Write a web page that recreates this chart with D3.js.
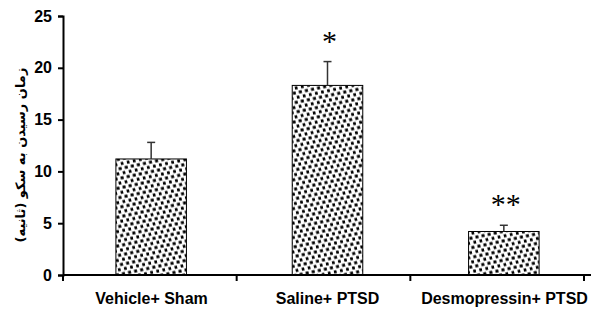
<!DOCTYPE html>
<html><head><meta charset="utf-8">
<script src="https://cdn.jsdelivr.net/npm/d3@7"></script>
<style>body{margin:0;background:#fff}svg{display:block}</style>
</head><body>
<script>
const categories = ["Vehicle+ Sham", "Saline+ PTSD", "Desmopressin+ PTSD"];
const means = [11.2, 18.3, 4.2];
const errors = [1.6, 2.3, 0.6];
const marks = ["", "*", "**"];
const yTicks = [0, 5, 10, 15, 20, 25];
const yLabel = "زمان رسیدن به سکو (ثانیه)";

const W = 591, H = 311;
const svg = d3.select("body").append("svg").attr("width", W).attr("height", H);

const defs = svg.append("defs");
const pat = defs.append("pattern").attr("id", "dots").attr("patternUnits", "userSpaceOnUse")
  .attr("width", 6.2).attr("height", 9.4).attr("patternTransform", "rotate(-12)");
pat.append("rect").attr("width", 6.2).attr("height", 9.4).attr("fill", "#fff");
pat.append("rect").attr("x", 0.4).attr("y", 0.4).attr("width", 3).attr("height", 3).attr("fill", "#000");
pat.append("rect").attr("x", 3.5).attr("y", 5.1).attr("width", 3).attr("height", 3).attr("fill", "#000");

const y = d3.scaleLinear().domain([0, 25]).range([275, 16]);
const xAxisScale = d3.scaleBand().domain(categories).range([63, 584]).padding(0);
const xBar = d3.scaleBand().domain(categories).range([63, 592]).paddingInner(0.6).paddingOuter(0.3);

// bars
svg.selectAll("rect.bar").data(categories).join("rect")
  .attr("class", "bar")
  .attr("x", d => xBar(d)).attr("width", xBar.bandwidth())
  .attr("y", (d, i) => y(means[i])).attr("height", (d, i) => y(0) - y(means[i]))
  .attr("fill", "url(#dots)").attr("stroke", "#000").attr("stroke-width", 1);

// error bars
const eg = svg.append("g").attr("stroke", "#333").attr("stroke-width", 1.5);
categories.forEach((c, i) => {
  const cx = xBar(c) + xBar.bandwidth() / 2;
  eg.append("line").attr("x1", cx).attr("x2", cx).attr("y1", y(means[i])).attr("y2", y(means[i] + errors[i]));
  eg.append("line").attr("x1", cx - 4).attr("x2", cx + 4).attr("y1", y(means[i] + errors[i])).attr("y2", y(means[i] + errors[i]));
  if (marks[i]) {
    svg.append("text").attr("x", cx + 2).attr("y", y(means[i] + errors[i]) - 11)
      .attr("text-anchor", "middle").attr("font-family", "Liberation Serif, serif")
      .attr("font-size", 30).attr("fill", "#000").text(marks[i]);
  }
});

// y axis
const yAxis = svg.append("g").attr("transform", "translate(63,0)")
  .call(d3.axisLeft(y).tickValues(yTicks).tickSize(5).tickPadding(6));
yAxis.select(".domain").attr("stroke-width", 2);
yAxis.selectAll(".tick line").attr("stroke-width", 2);
yAxis.selectAll("text").attr("font-family", "Liberation Sans, Arial, sans-serif")
  .attr("font-weight", "bold").attr("font-size", 16).attr("fill", "#000");

// x axis
const xAxis = svg.append("g").attr("transform", "translate(0,275)")
  .call(d3.axisBottom(xAxisScale).tickSize(0).tickPadding(18));
xAxis.select(".domain").attr("stroke-width", 2).attr("d", "M63,0H591");
xAxis.selectAll("text").attr("font-family", "Liberation Sans, Arial, sans-serif")
  .attr("font-weight", "bold").attr("font-size", 16).attr("fill", "#000");
xAxis.selectAll(".tick text").attr("x", (d, i) => [151.5, 327.5, 504.5][i] - xAxisScale(d) - xAxisScale.bandwidth() / 2);
// band boundary ticks
const bounds = [...categories.map(c => xAxisScale(c)), xAxisScale(categories[2]) + xAxisScale.bandwidth()];
xAxis.selectAll("line.bt").data(bounds).join("line").attr("class", "bt")
  .attr("x1", d => d).attr("x2", d => d).attr("y1", 0).attr("y2", 6)
  .attr("stroke", "#000").attr("stroke-width", 2);

// y label
svg.append("text").attr("transform", "translate(25,155) rotate(-90)")
  .attr("text-anchor", "middle").attr("font-family", "DejaVu Sans, Noto Sans, sans-serif")
  .attr("font-weight", "bold").attr("font-size", 13).attr("fill", "#000").text(yLabel);
</script>
</body></html>
